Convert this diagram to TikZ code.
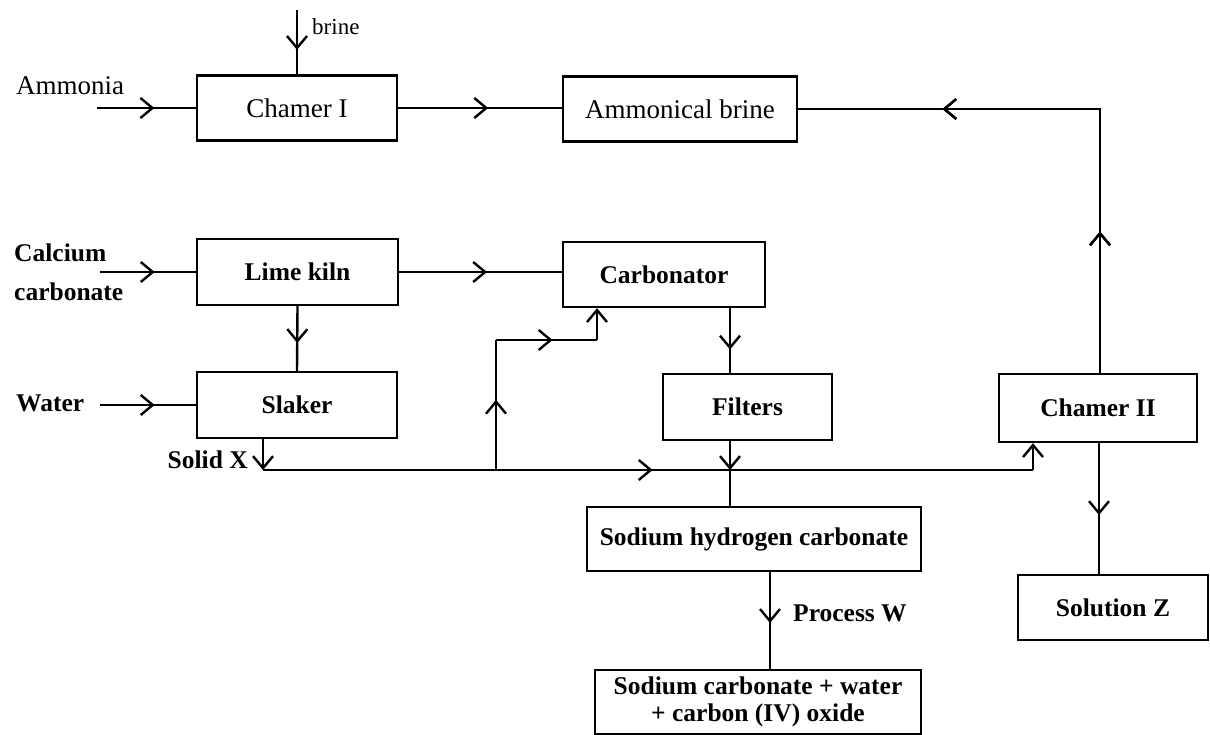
\documentclass[tikz,border=0pt]{standalone}
\usepackage{fontspec}
\setmainfont{Liberation Serif}
\usetikzlibrary{arrows.meta,decorations.markings,calc}
\tikzset{
  box/.style={draw, line width=2.4pt, inner sep=2pt, align=center},
  lt/.style={font=\fontsize{27}{30}\selectfont},
  bt/.style={font=\fontsize{25.5}{27}\selectfont\bfseries},
  ma/.style={postaction={decorate}, decoration={markings, mark=at position #1 with {\arrow{>}}}},
}
\begin{document}
\begin{tikzpicture}[x=1pt,y=-1pt,line width=2.4pt,>={Straight Barb[length=12pt,width=20pt]}]
\useasboundingbox (0,0) rectangle (1210,735);
% boxes
\node[box,lt,minimum width=200pt,minimum height=65pt] (c1) at (297,108) {Chamer I};
\node[box,lt,minimum width=234pt,minimum height=65pt] (ab) at (680,109) {Ammonical brine};
\node[box,bt,minimum width=201pt,minimum height=66pt] (lk) at (297.5,272) {Lime kiln};
\node[box,bt,minimum width=202pt,minimum height=65pt] (carb) at (664,274.5) {Carbonator};
\node[box,bt,minimum width=200pt,minimum height=66pt] (sl) at (297,405) {Slaker};
\node[box,bt,minimum width=169pt,minimum height=66pt] (fil) at (747.5,407) {Filters};
\node[box,bt,minimum width=198pt,minimum height=68pt] (c2) at (1098,408) {Chamer II};
\node[box,bt,minimum width=334pt,minimum height=64pt] (shc) at (754,539) {Sodium hydrogen carbonate};
\node[box,bt,minimum width=190pt,minimum height=65pt] (sz) at (1113,607.5) {Solution Z};
\node[box,bt,minimum width=326pt,minimum height=64pt] (sc) at (758,702) {Sodium carbonate + water\\+ carbon (IV) oxide};
% labels
\node[lt,anchor=west,inner sep=0pt] (lam) at (15,86) {Ammonia};
\node[lt,anchor=west,inner sep=0pt,font=\fontsize{23}{26}\selectfont] (lbr) at (311,27) {brine};
\node[bt,anchor=west,inner sep=0pt,align=left,font=\fontsize{25.5}{39}\selectfont\bfseries] (lca) at (13,272) {Calcium\\carbonate};
\node[bt,anchor=west,inner sep=0pt] (lwa) at (15,403) {Water};
\node[bt,anchor=east,inner sep=0pt] (lsx) at (249,460) {Solid X};
\node[bt,anchor=west,inner sep=0pt] (lpw) at (792,613) {Process W};
% free ends and junctions
\coordinate (am) at (97,108);
\coordinate (bri) at (297,10);
\coordinate (cc) at (100,272);
\coordinate (wa) at (100,405);
\coordinate (sx) at (263,470);
\coordinate (br) at (496,470);
\coordinate (bk) at (597,340);
\coordinate (vx) at (730,470);
\coordinate (c2in) at (1033,470);
\coordinate (px) at (770,600);
% connectors
\draw[ma=0.58] (am) -- (c1.west);
\draw[ma=0.62] (bri) -- (c1.north);
\draw[ma=0.55] (c1.east) -- (c1.east -| ab.west);
\draw[ma=0.25, decoration={markings, mark=at position 0.745 with {\arrow{>}}}, postaction={decorate}] (c2.north -| 1100,0) |- (ab.east);
\draw[ma=0.57] (cc) -- (lk.west);
\draw[ma=0.54] (lk.east) -- (lk.east -| carb.west);
\draw[ma=0.57] (lk.south) -- (sl.north);
\draw[ma=0.57] (wa) -- (sl.west);
\draw[->] (sl.south -| sx) -- (sx);
\draw[ma=0.506] (sx) -- (c2in);
\draw[->] (c2in) -- (c2in |- c2.south);
\draw[ma=0.54] (br) -- (br |- bk);
\draw[ma=0.56] (br |- bk) -- (bk);
\draw[->] (bk) -- (bk |- carb.south);
\draw[ma=0.64] (carb.south -| vx) -- (fil.north -| vx);
\draw[->] (fil.south -| vx) -- (vx);
\draw (vx) -- (shc.north -| vx);
\draw[ma=0.525] (shc.south -| px) -- (sc.north -| px);
\draw[ma=0.55] (c2.south -| 1099,0) -- (sz.north -| 1099,0);
\end{tikzpicture}
\end{document}
